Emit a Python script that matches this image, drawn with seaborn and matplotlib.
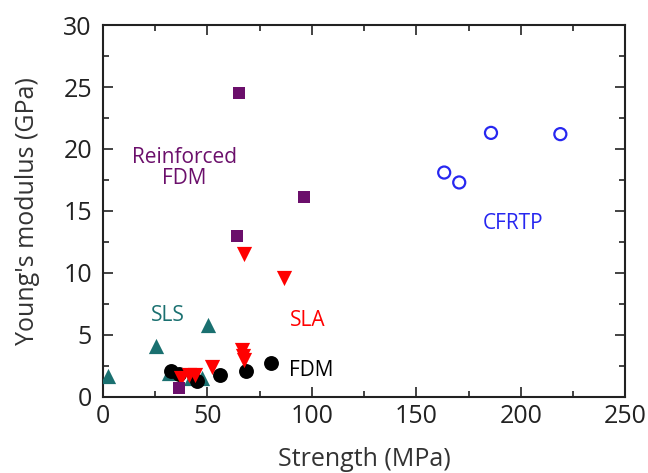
import matplotlib
matplotlib.use("Agg")
import matplotlib.pyplot as plt
import seaborn as sns
import pandas as pd
from matplotlib.ticker import MultipleLocator

sns.set_theme(style="ticks")
plt.rcParams['font.family'] = ['Open Sans', 'DejaVu Sans']

# Data (strength MPa, modulus GPa)
fdm_x = [32.5, 36.5, 45.0, 56.0, 68.3, 80.5]
fdm_y = [2.1, 1.85, 1.3, 1.8, 2.1, 2.7]
sla_x = [37.2, 41.0, 44.0, 52.2, 66.5, 67.0, 67.3, 67.5, 86.7]
sla_y = [1.5, 1.8, 1.75, 2.4, 3.8, 3.3, 3.0, 11.5, 9.6]
sls_x = [2.3, 31.5, 25.4, 42.0, 47.4, 50.3]
sls_y = [1.7, 1.9, 4.1, 1.5, 1.5, 5.8]
rfdm_x = [36.4, 64.3, 65.3, 96.0]
rfdm_y = [0.75, 13.0, 24.5, 16.1]
cfrtp_x = [163.3, 170.5, 185.7, 218.9]
cfrtp_y = [18.1, 17.3, 21.3, 21.2]

labels = ["Reinforced\nFDM", "CFRTP", "SLS", "SLA", "FDM"]

teal = "#1a7070"
purple = "#6b0f6b"
red = "#ff0000"
blue = "#2727f0"

fig = plt.figure(figsize=(6.48, 4.73), dpi=100)
ax = fig.add_axes([0.159, 0.161, 0.806, 0.786])

sns.scatterplot(x=sls_x, y=sls_y, ax=ax, marker="^", color=teal, s=120, linewidth=0, zorder=3)
sns.scatterplot(x=fdm_x, y=fdm_y, ax=ax, marker="o", color="black", s=115, linewidth=0, zorder=3)
sns.scatterplot(x=sla_x, y=sla_y, ax=ax, marker="v", color=red, s=120, linewidth=0, zorder=4)
sns.scatterplot(x=rfdm_x, y=rfdm_y, ax=ax, marker="s", color=purple, s=85, linewidth=0, zorder=5)
sns.scatterplot(x=cfrtp_x, y=cfrtp_y, ax=ax, marker="o", facecolor="none", edgecolor=blue, s=75, linewidth=1.6, zorder=3)

fs = 15
ax.text(39, 18.5, labels[0], color=purple, fontsize=fs, ha="center", va="center", linespacing=1.0)
ax.text(196.5, 14.0, labels[1], color=blue, fontsize=fs, ha="center", va="center")
ax.text(30.8, 6.6, labels[2], color=teal, fontsize=fs, ha="center", va="center")
ax.text(98.0, 6.2, labels[3], color=red, fontsize=fs, ha="center", va="center")
ax.text(99.6, 2.1, labels[4], color="black", fontsize=fs, ha="center", va="center")

ax.set_xlim(0, 250)
ax.set_ylim(0, 30)
ax.xaxis.set_major_locator(MultipleLocator(50))
ax.xaxis.set_minor_locator(MultipleLocator(25))
ax.yaxis.set_major_locator(MultipleLocator(5))
ax.yaxis.set_minor_locator(MultipleLocator(2.5))
ax.tick_params(which="both", direction="in", top=True, right=True, color="#222222", width=1.2)
ax.tick_params(which="major", length=7, labelsize=18, labelcolor="#222222")
ax.tick_params(axis="y", which="major", pad=8)
ax.tick_params(axis="x", which="major", pad=5)
ax.tick_params(which="minor", length=4)
for sp in ax.spines.values():
    sp.set_linewidth(1.5)
    sp.set_color("#222222")
    sp.set_visible(True)

ax.set_xlabel("Strength (MPa)", fontsize=18, color="#333333", labelpad=13)
ax.set_ylabel("Young's modulus (GPa)", fontsize=18, color="#333333", labelpad=17)

fig.savefig("out.png", dpi=100)
